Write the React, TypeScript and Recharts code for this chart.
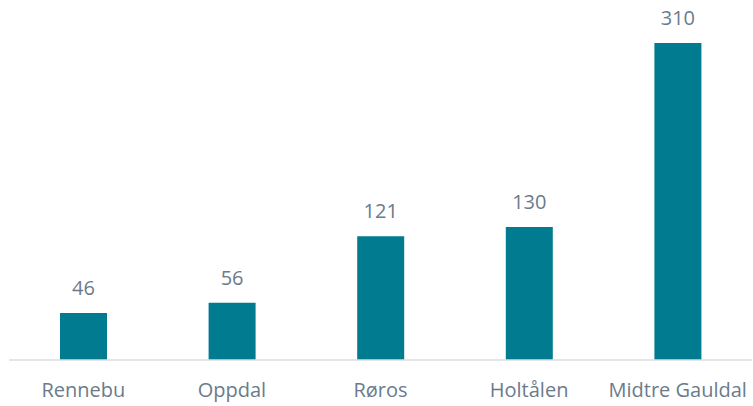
import { BarChart, Bar, XAxis, YAxis, LabelList } from "recharts";

const municipalities = ["Rennebu", "Oppdal", "Røros", "Holtålen", "Midtre Gauldal"];
const counts = [46, 56, 121, 130, 310];

const barColor = "#007B8F";
const textColor = "#6B7B8C";
const fontFamily = "'Open Sans', sans-serif";

export default function App() {
  const data = municipalities.map((name, i) => ({ name, value: counts[i] }));
  return (
    <div style={{ position: "fixed", top: 0, left: 0, width: 753, height: 406, background: "#fff" }}>
      <BarChart
        width={753}
        height={406}
        data={data}
        margin={{ top: 43, right: 1, bottom: 0, left: 9 }}
        barCategoryGap={0}
      >
        <XAxis
          dataKey="name"
          height={46}
          tickLine={false}
          axisLine={{ stroke: "#D9DEE2", strokeWidth: 1.5 }}
          tick={{ fontSize: 20, fontFamily, fill: textColor }}
          tickMargin={17}
          interval={0}
        />
        <YAxis hide domain={[0, 310]} />
        <Bar dataKey="value" fill={barColor} barSize={47} isAnimationActive={false}>
          <LabelList
            dataKey="value"
            position="top"
            offset={18}
            style={{ fontSize: 20, fontFamily, fill: textColor }}
          />
        </Bar>
      </BarChart>
    </div>
  );
}
